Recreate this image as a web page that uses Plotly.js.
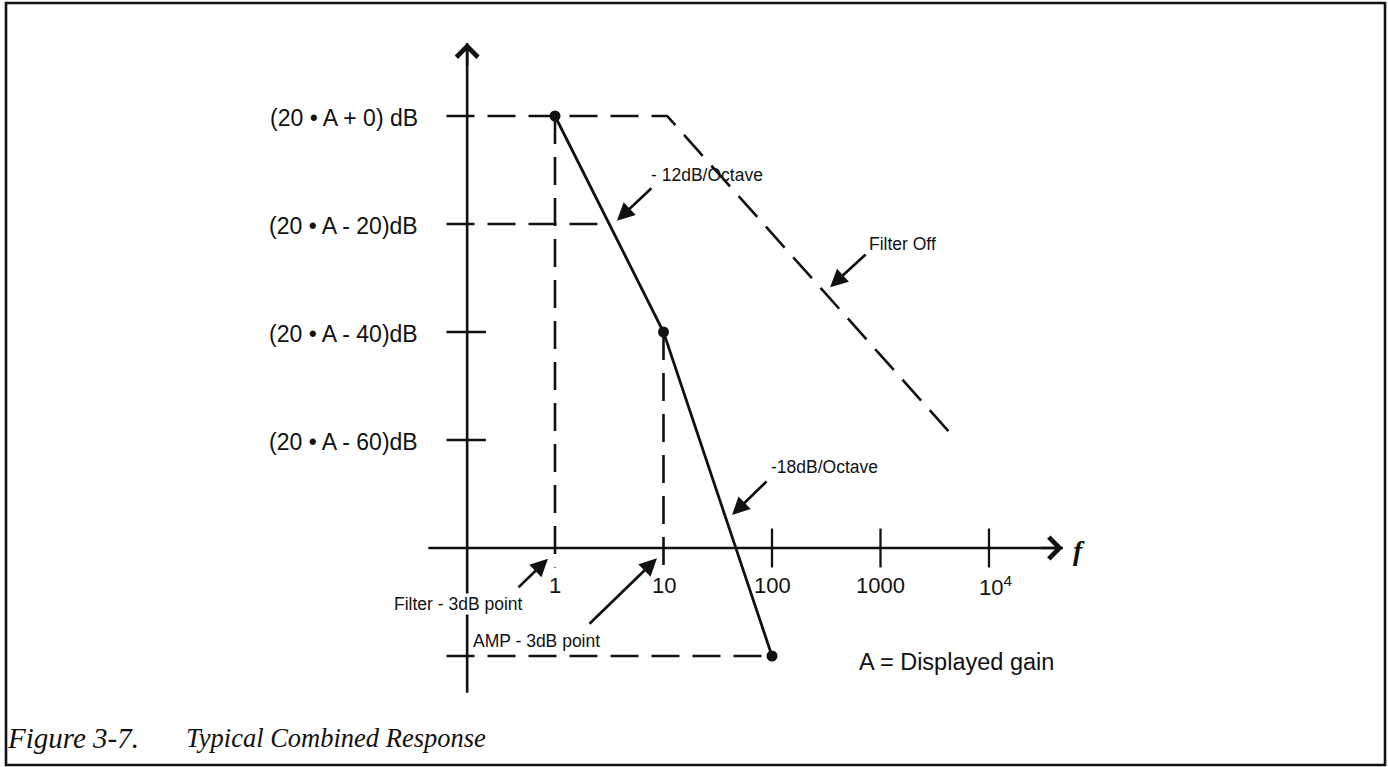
<!DOCTYPE html>
<html><head><meta charset="utf-8">
<script src="https://cdn.plot.ly/plotly-3.0.1.min.js"></script>
<style>html,body{margin:0;padding:0;background:#fff}#chart{width:1388px;height:767px}</style>
</head><body><div id="chart"></div>
<script>
// ---- data ----
// frequency axis ticks (log scale)
const freqTicks = [1, 10, 100, 1000, 10000];
const freqTickLabels = ['1', '10', '100', '1000', '10<sup>4</sup>'];
// gain axis ticks, dB relative to 20·A
const gainTicks = [0, -20, -40, -60];
const gainTickLabels = ['(20 • A + 0) dB', '(20 • A - 20)dB', '(20 • A - 40)dB', '(20 • A - 60)dB'];
// combined response (filter + amplifier) corner points
const combinedF = [1, 10, 100];
const combinedDb = [0, -40, -100];
// filter off response
const filterOffF = [0.1, 10.8, 5000];
const filterOffDb = [0, 0, -60];
// guide positions
const gainAxisF = 0.155;            // frequency where the gain axis stands
const freqAxisDb = -80;             // gain where the frequency axis lies
const freqAxisSpan = [0.068, 48000];
const gainAxisSpan = [-106.8, 13.5];
const guideStartF = 0.1;
const minus20CrossF = 3.16;
const bottomDb = -100;
const solidTickF = [100, 1000, 10000];
const solidTickDb = [-40, -60];
const tickHalfDb = 3.6;
const tickEndF = 0.231;

// ---- drawing ----
const INK = '#111';
const DASH = '28px,13px';
const L = Math.log10;
const traces = [];
function seg(x, y, dash, w) {
  traces.push({type: 'scatter', mode: 'lines', x: x, y: y, hoverinfo: 'skip', showlegend: false,
    line: {color: INK, width: w || 2.6, dash: dash || 'solid'}});
}
// axes
seg([gainAxisF, gainAxisF], gainAxisSpan);
seg(freqAxisSpan, [freqAxisDb, freqAxisDb]);
// solid frequency ticks
solidTickF.forEach(f => seg([f, f], [freqAxisDb + tickHalfDb, freqAxisDb - tickHalfDb], 'solid', 2.3));
// solid gain ticks
solidTickDb.forEach(d => seg([guideStartF, tickEndF], [d, d], 'solid', 2.6));
// dashed guides
seg([combinedF[0], combinedF[0]], [combinedDb[0], freqAxisDb - tickHalfDb], DASH);
seg([combinedF[1], combinedF[1]], [combinedDb[1], freqAxisDb - tickHalfDb], DASH);
seg([guideStartF, minus20CrossF], [gainTicks[1], gainTicks[1]], DASH);
seg([guideStartF, combinedF[2]], [bottomDb, bottomDb], DASH);
// filter off
seg(filterOffF, filterOffDb, DASH);
// combined response
traces.push({type: 'scatter', mode: 'lines+markers', x: combinedF, y: combinedDb, hoverinfo: 'skip',
  showlegend: false, line: {color: INK, width: 2.8}, marker: {color: INK, size: 11}});

const txt = {family: 'Liberation Sans, Arial, sans-serif', color: INK};
const ann = [];
// gain labels
gainTicks.forEach((d, i) => ann.push({x: L(0.057), y: d - 0.4, xref: 'x', yref: 'y', text: gainTickLabels[i],
  showarrow: false, xanchor: 'right', yanchor: 'middle', font: Object.assign({size: 23}, txt)}));
// frequency labels
freqTicks.forEach((f, i) => ann.push({x: L(f), y: -87, xref: 'x', yref: 'y', text: freqTickLabels[i],
  showarrow: false, xanchor: 'center', yanchor: 'middle', xshift: i === 4 ? 6 : 0, font: Object.assign({size: 22}, txt)}));
// axis arrow heads
ann.push({x: L(gainAxisF), y: gainAxisSpan[1], xref: 'x', yref: 'y', text: '', showarrow: true,
  ax: 0, ay: 24, arrowhead: 4, arrowsize: 1.6, arrowwidth: 2.6, arrowcolor: INK, standoff: 0});
ann.push({x: L(freqAxisSpan[1]), y: freqAxisDb, xref: 'x', yref: 'y', text: '', showarrow: true,
  ax: -24, ay: 0, arrowhead: 4, arrowsize: 1.6, arrowwidth: 2.6, arrowcolor: INK, standoff: 0});
ann.push({x: L(freqAxisSpan[1]), y: freqAxisDb, xref: 'x', yref: 'y', text: '<b><i>f</i></b>', showarrow: false,
  xanchor: 'left', yanchor: 'middle', xshift: 8, yshift: -2, font: {family: 'Liberation Serif, serif', size: 28, color: INK}});
// pointer arrows: tip in data, tail as pixel offset
const pointers = [
  [3.72, -19.4, 36, -34],
  [343, -31.7, 37, -34],
  [42.8, -73.9, 36, -35],
  [0.861, -82.0, -31, 30],
  [8.71, -81.9, -69, 67]
];
pointers.forEach(p => ann.push({x: L(p[0]), y: p[1], xref: 'x', yref: 'y', text: '', showarrow: true,
  ax: p[2], ay: p[3], arrowhead: 2, arrowsize: 1.3, arrowwidth: 2.7, arrowcolor: INK, standoff: 0}));
// labels
const labels = [
  ['- 12dB/Octave', 7.52, -10.9, 17.5],
  ['Filter Off', 767, -23.7, 17.5],
  ['-18dB/Octave', 96, -65.0, 17.5],
  ['Filter - 3dB point', 0.0321, -90.4, 17.5],
  ['AMP - 3dB point', 0.172, -97.2, 17.5],
  ['A = Displayed gain', 621, -101.1, 23.5]
];
labels.forEach(l => ann.push({x: L(l[1]), y: l[2], xref: 'x', yref: 'y', text: l[0], showarrow: false,
  xanchor: 'left', yanchor: 'middle', bgcolor: l[0].startsWith('Filter -') ? '#fff' : 'rgba(0,0,0,0)',
  borderpad: 0, font: Object.assign({size: l[3]}, txt)}));
// caption
ann.push({x: 5 / 1388, y: 1 - 738 / 767, xref: 'paper', yref: 'paper', text: '<i>Figure 3-7.</i>', showarrow: false,
  xanchor: 'left', yanchor: 'middle', font: {family: 'Liberation Serif, serif', size: 29, color: INK}});
ann.push({x: 184 / 1388, y: 1 - 738 / 767, xref: 'paper', yref: 'paper', text: '<i>Typical Combined Response</i>', showarrow: false,
  xanchor: 'left', yanchor: 'middle', font: {family: 'Liberation Serif, serif', size: 26.5, color: INK}});

const pxPerDecade = 108.5, xZero = 555, pxPerDb = 5.4, yZero = 116;
const xr0 = -xZero / pxPerDecade, xr1 = xr0 + 1388 / pxPerDecade;
const yr1 = yZero / pxPerDb, yr0 = yr1 - 767 / pxPerDb;

const layout = {
  width: 1388, height: 767, margin: {l: 0, r: 0, t: 0, b: 0},
  paper_bgcolor: '#fff', plot_bgcolor: '#fff', showlegend: false,
  xaxis: {type: 'log', range: [xr0, xr1], visible: false, fixedrange: true},
  yaxis: {range: [yr0, yr1], visible: false, fixedrange: true},
  annotations: ann,
  shapes: [{type: 'rect', xref: 'paper', yref: 'paper', x0: 6 / 1388, x1: 1385 / 1388,
    y0: 1 - 765 / 767, y1: 1 - 3 / 767, line: {color: INK, width: 2.6}}]
};
Plotly.newPlot('chart', traces, layout, {staticPlot: true, displayModeBar: false});
</script></body></html>
